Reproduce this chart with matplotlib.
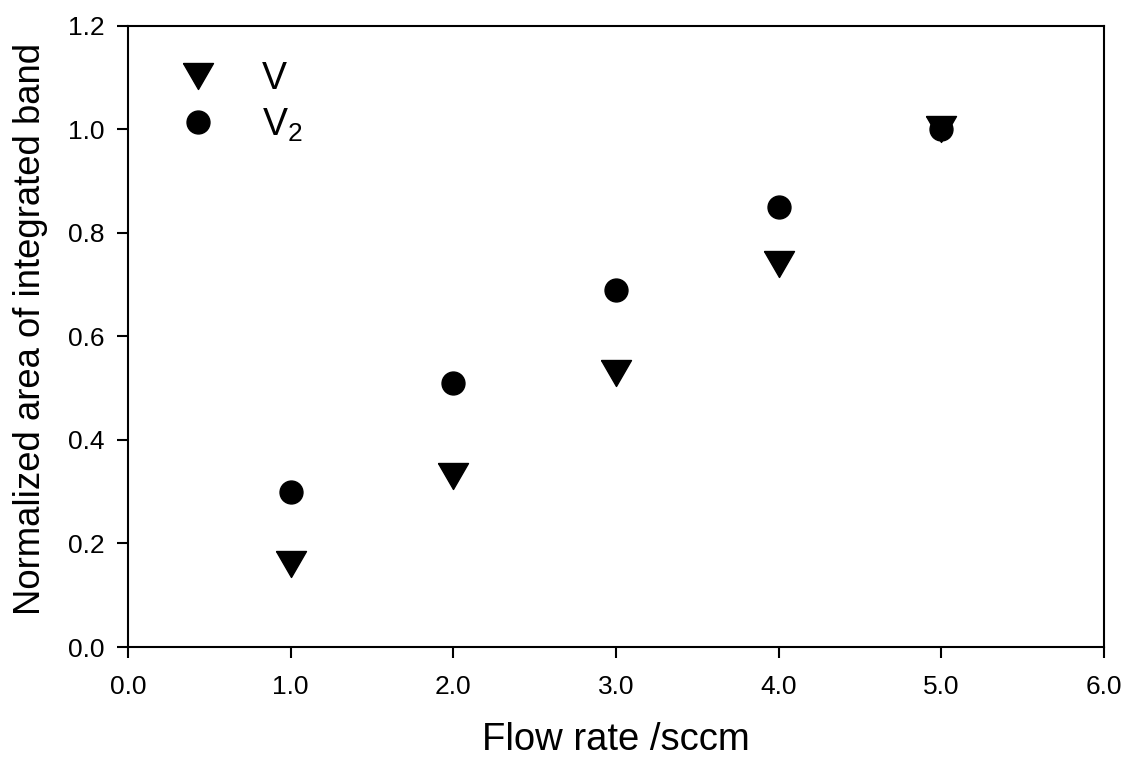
import matplotlib
matplotlib.use('Agg')
import matplotlib.pyplot as plt

plt.rcParams['font.family'] = ['Liberation Sans', 'DejaVu Sans']
plt.rcParams['mathtext.fontset'] = 'custom'
plt.rcParams['mathtext.rm'] = 'Liberation Sans'
plt.rcParams['mathtext.it'] = 'Liberation Sans'

# Data
flow_rate = [1.0, 2.0, 3.0, 4.0, 5.0]
v_area = [0.16, 0.33, 0.53, 0.74, 1.00]
v2_area = [0.30, 0.51, 0.69, 0.85, 1.00]

x_ticks = [0.0, 1.0, 2.0, 3.0, 4.0, 5.0, 6.0]
y_ticks = [0.0, 0.2, 0.4, 0.6, 0.8, 1.0, 1.2]

# equilateral downward triangle, centred on its bounding box
tri = [(-1, 0.866), (1, 0.866), (0, -0.866), (-1, 0.866)]

fig = plt.figure(figsize=(11.26, 7.57), dpi=100)
ax = fig.add_axes([0.1137, 0.1453, 0.8668, 0.8207])

ax.plot(flow_rate, v_area, linestyle='none', marker=tri, markersize=21.6,
        color='black', label='V')
ax.plot(flow_rate, v2_area, linestyle='none', marker='o', markersize=16.5,
        color='black', label='V$_2$')

ax.set_xlim(0, 6)
ax.set_ylim(0, 1.2)
ax.set_xticks(x_ticks)
ax.set_yticks(y_ticks)
ax.set_xticklabels([f'{t:.1f}' for t in x_ticks])
ax.set_yticklabels([f'{t:.1f}' for t in y_ticks])

for s in ax.spines.values():
    s.set_linewidth(1.5)
ax.tick_params(direction='out', length=8, width=1.5, labelsize=19,
               top=False, right=False)
ax.tick_params(axis='x', pad=12)
ax.tick_params(axis='y', pad=9)

ax.set_xlabel('Flow rate /sccm', fontsize=27.5, labelpad=17)
ax.set_ylabel('Normalized area of integrated band', fontsize=26.3)
ax.yaxis.set_label_coords(-0.0823, 0.5124)

leg = ax.legend(loc='upper left', bbox_to_anchor=(0.037, 0.967), frameon=False,
                fontsize=27, handletextpad=1.2, labelspacing=0.25,
                borderaxespad=0, handlelength=1.0)

fig.savefig('out.png', dpi=100)
